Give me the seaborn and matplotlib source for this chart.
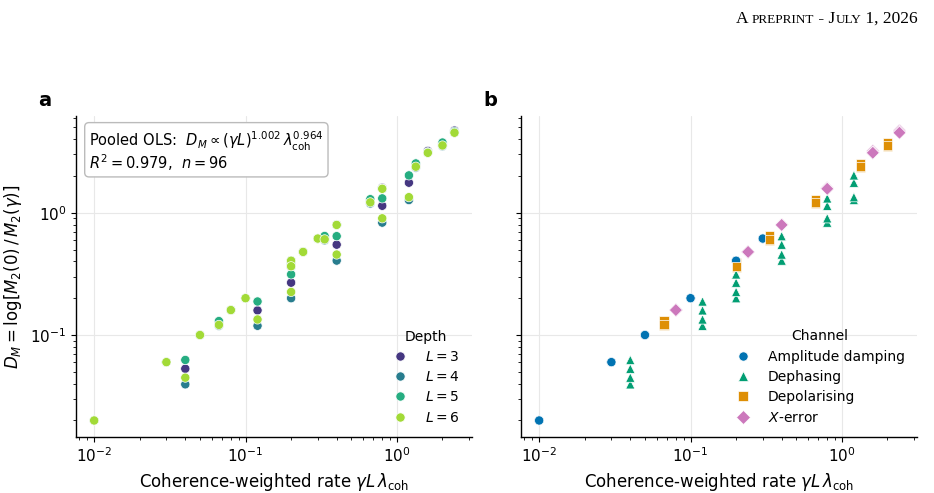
import numpy as np
import pandas as pd
import matplotlib
matplotlib.use("Agg")
import matplotlib.pyplot as plt
import seaborn as sns
from matplotlib.offsetbox import TextArea, HPacker, AnchoredOffsetbox

# ---------------- data ----------------
depths = ["$L = 3$", "$L = 4$", "$L = 5$", "$L = 6$"]
channels = ["Amplitude damping", "Dephasing", "Depolarising", "$X$-error"]

x_amp = [0.01, 0.03, 0.05, 0.1, 0.2, 0.3]
y_amp_L3 = [0.020, 0.060, 0.100, 0.200, 0.405, 0.615]
y_amp_L4 = [0.020, 0.060, 0.100, 0.200, 0.405, 0.615]
y_amp_L5 = [0.020, 0.060, 0.100, 0.200, 0.405, 0.615]
y_amp_L6 = [0.020, 0.060, 0.100, 0.200, 0.405, 0.615]

x_deph = [0.04, 0.12, 0.2, 0.4, 0.8, 1.2]
y_deph_L3 = [0.053, 0.159, 0.268, 0.548, 1.14, 1.76]
y_deph_L4 = [0.0395, 0.119, 0.200, 0.406, 0.83, 1.27]
y_deph_L5 = [0.0625, 0.188, 0.313, 0.643, 1.31, 2.02]
y_deph_L6 = [0.0448, 0.134, 0.225, 0.455, 0.90, 1.34]

x_depol = [0.0667, 0.2, 0.333, 0.667, 1.333, 2.0]
y_depol_L3 = [0.125, 0.375, 0.625, 1.25, 2.45, 3.65]
y_depol_L4 = [0.119, 0.360, 0.595, 1.19, 2.34, 3.50]
y_depol_L5 = [0.130, 0.390, 0.645, 1.29, 2.53, 3.75]
y_depol_L6 = [0.121, 0.365, 0.606, 1.216, 2.38, 3.55]

x_xerr = [0.08, 0.24, 0.4, 0.8, 1.6, 2.4]
y_xerr_L3 = [0.160, 0.480, 0.800, 1.60, 3.20, 4.70]
y_xerr_L4 = [0.160, 0.478, 0.795, 1.57, 3.09, 4.51]
y_xerr_L5 = [0.160, 0.478, 0.795, 1.57, 3.12, 4.60]
y_xerr_L6 = [0.160, 0.478, 0.795, 1.57, 3.09, 4.51]

series = {
    "$L = 3$": [y_amp_L3, y_deph_L3, y_depol_L3, y_xerr_L3],
    "$L = 4$": [y_amp_L4, y_deph_L4, y_depol_L4, y_xerr_L4],
    "$L = 5$": [y_amp_L5, y_deph_L5, y_depol_L5, y_xerr_L5],
    "$L = 6$": [y_amp_L6, y_deph_L6, y_depol_L6, y_xerr_L6],
}
xs = [x_amp, x_deph, x_depol, x_xerr]

rows = []
for d in depths:
    for ci, ch in enumerate(channels):
        for xv, yv in zip(xs[ci], series[d][ci]):
            rows.append({"x": xv, "y": yv, "Depth": d, "Channel": ch})
df = pd.DataFrame(rows)

# ---------------- style ----------------
sns.set_theme(style="ticks")
plt.rcParams["font.family"] = ["DejaVu Sans"]
plt.rcParams.update({
    "text.color": "black", "axes.labelcolor": "black",
    "xtick.color": "black", "ytick.color": "black",
    "axes.edgecolor": "black",
    "axes.linewidth": 1.0,
    "xtick.major.size": 3.5, "ytick.major.size": 3.5,
    "xtick.minor.size": 2.0, "ytick.minor.size": 2.0,
    "xtick.major.width": 0.8, "ytick.major.width": 0.8,
    "xtick.minor.width": 0.6, "ytick.minor.width": 0.6,
    "xtick.labelsize": 11, "ytick.labelsize": 11,
})

fig = plt.figure(figsize=(9.34, 4.93), dpi=100)
axL = fig.add_axes([76 / 934, 56 / 493, 396 / 934, 321 / 493])
axR = fig.add_axes([521 / 934, 56 / 493, 396 / 934, 321 / 493], sharey=axL)

depth_pal = [tuple(c[:3]) for c in plt.cm.viridis([0.16, 0.42, 0.62, 0.86])]
chan_pal = ["#0173b2", "#029e73", "#de8f05", "#cc78bc"]

sns.scatterplot(data=df, x="x", y="y", hue="Depth", hue_order=depths,
                palette=depth_pal, s=44, edgecolor="white", linewidth=0.5,
                ax=axL, zorder=3)
sns.scatterplot(data=df, x="x", y="y", hue="Channel", style="Channel",
                hue_order=channels, style_order=channels,
                markers=["o", "^", "s", "D"], palette=chan_pal, s=44,
                edgecolor="white", linewidth=0.5, ax=axR, zorder=3)

for ax in (axL, axR):
    ax.set_xscale("log")
    ax.set_yscale("log")
    ax.set_xlim(10 ** -2.12, 10 ** 0.496)
    ax.set_ylim(10 ** -1.834, 10 ** 0.791)
    ax.grid(True, which="major", color="#e8e8e8", linewidth=0.8, zorder=0)
    ax.set_axisbelow(True)
    sns.despine(ax=ax)
    ax.set_xlabel(r"Coherence-weighted rate $\gamma L\,\lambda_{\mathrm{coh}}$", fontsize=12)

axL.set_ylabel(r"$D_M = \log[M_2(0)\,/\,M_2(\gamma)]$", fontsize=12)
axR.set_ylabel("")
axR.tick_params(axis="y", which="both", labelleft=False)

leg_kw = dict(loc="lower right", frameon=False, fontsize=10, title_fontsize=10,
              handlelength=1.0, handletextpad=1.3, labelspacing=0.45,
              borderaxespad=0.5)
axL.legend(title="Depth", **leg_kw)
axR.legend(title="Channel", **leg_kw)

axL.text(0.033, 0.958,
         "Pooled OLS:  $D_M \\propto (\\gamma L)^{1.002}\\,\\lambda_{\\mathrm{coh}}^{0.964}$\n"
         "$R^2 = 0.979$,  $n = 96$",
         transform=axL.transAxes, ha="left", va="top", fontsize=10.5,
         linespacing=0.95,
         bbox=dict(boxstyle="round,pad=0.3", fc="white", ec="#bbbbbb", lw=1.0),
         zorder=5)

fig.text(45 / 934, 1 - 100 / 493, "a", fontsize=14, fontweight="bold",
         ha="center", va="center")
fig.text(490 / 934, 1 - 100 / 493, "b", fontsize=14, fontweight="bold",
         ha="center", va="center")

# header (small caps imitation)
big = dict(fontfamily="Liberation Serif", fontsize=12.5, color="black")
small = dict(fontfamily="Liberation Serif", fontsize=9.5, color="black")
parts = [TextArea("A ", textprops=big), TextArea("PREPRINT", textprops=small),
         TextArea(" - J", textprops=big), TextArea("ULY", textprops=small),
         TextArea(" 1, 2026", textprops=big)]
pack = HPacker(children=parts, align="baseline", pad=0, sep=0)
anch = AnchoredOffsetbox(loc="lower right", child=pack, pad=0, borderpad=0,
                         frameon=False, bbox_to_anchor=(918 / 934, 1 - 27 / 493),
                         bbox_transform=fig.transFigure)
fig.add_artist(anch)

fig.savefig("out.png", dpi=100)
